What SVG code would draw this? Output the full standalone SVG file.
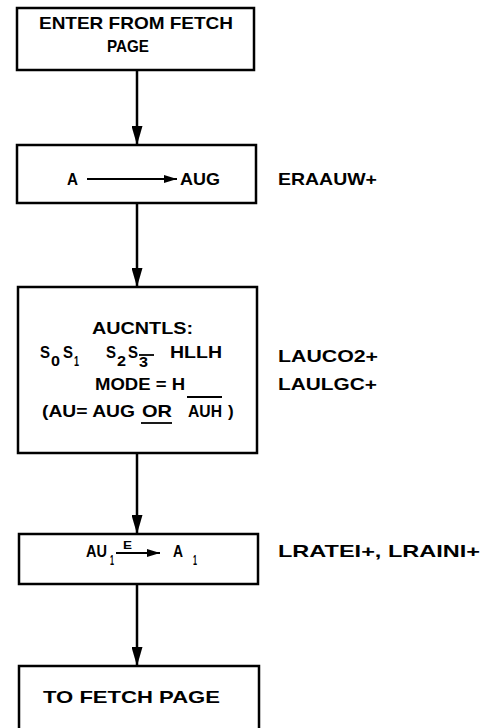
<svg xmlns="http://www.w3.org/2000/svg" width="484" height="728" viewBox="0 0 484 728">
<style>
.box{fill:#fff;stroke:#000;stroke-width:2.5}
.t{font-family:"Liberation Sans",Arial,sans-serif;font-weight:bold;font-size:17px;fill:#000}
.s{font-family:"Liberation Sans",Arial,sans-serif;font-weight:bold;font-size:14px;fill:#000}
.e{font-family:"Liberation Sans",Arial,sans-serif;font-weight:bold;font-size:11px;fill:#000}
.c{stroke:#000;stroke-width:2.5;fill:none}
.ln{stroke:#000;stroke-width:1.8;fill:none}
</style>
<defs>
<marker id="ah" markerUnits="userSpaceOnUse" markerWidth="19" markerHeight="11" refX="19" refY="5.5" orient="auto">
<path d="M0,0 L19,5.5 L0,11 Z" fill="#000"/>
</marker>
<marker id="sa" markerUnits="userSpaceOnUse" markerWidth="13" markerHeight="8" refX="13" refY="4" orient="auto">
<path d="M0,0 L13,4 L0,8 Z" fill="#000"/>
</marker>
</defs>
<g id="connectors">
<line class="c" x1="137" y1="70" x2="137" y2="145" marker-end="url(#ah)"/>
<line class="c" x1="137" y1="203" x2="137" y2="287" marker-end="url(#ah)"/>
<line class="c" x1="137" y1="453" x2="137" y2="534" marker-end="url(#ah)"/>
<line class="c" x1="137" y1="584" x2="137" y2="666" marker-end="url(#ah)"/>
</g>
<g id="n1">
<rect class="box" x="17" y="8" width="237" height="62"/>
<text class="t" x="39" y="29" textLength="194" lengthAdjust="spacingAndGlyphs">ENTER FROM FETCH</text>
<text class="t" x="107" y="52" textLength="42" lengthAdjust="spacingAndGlyphs">PAGE</text>
</g>
<g id="n2">
<rect class="box" x="17" y="145" width="239" height="58"/>
<text class="t" x="67" y="185" textLength="11" lengthAdjust="spacingAndGlyphs">A</text>
<line class="ln" x1="87" y1="179" x2="177" y2="179" marker-end="url(#sa)"/>
<text class="t" x="180" y="185" textLength="40" lengthAdjust="spacingAndGlyphs">AUG</text>
</g>
<g id="l2">
<text class="t" x="278" y="185" textLength="99" lengthAdjust="spacingAndGlyphs">ERAAUW+</text>
</g>
<g id="n3">
<rect class="box" x="18" y="287" width="239" height="166"/>
<text class="t" x="92" y="334" textLength="101" lengthAdjust="spacingAndGlyphs">AUCNTLS:</text>
<text class="t" x="40" y="358" textLength="10" lengthAdjust="spacingAndGlyphs">S</text><text class="s" x="51" y="366" textLength="9" lengthAdjust="spacingAndGlyphs">0</text>
<text class="t" x="63" y="358" textLength="10" lengthAdjust="spacingAndGlyphs">S</text><text class="s" x="74" y="366" textLength="5" lengthAdjust="spacingAndGlyphs">1</text>
<text class="t" x="106" y="358" textLength="10" lengthAdjust="spacingAndGlyphs">S</text><text class="s" x="117" y="366" textLength="9" lengthAdjust="spacingAndGlyphs">2</text>
<text class="t" x="128" y="358" textLength="10" lengthAdjust="spacingAndGlyphs">S</text><text class="s" x="139" y="367" textLength="9" lengthAdjust="spacingAndGlyphs">3</text>
<line class="ln" x1="139" y1="355" x2="154" y2="355"/>
<text class="t" x="170" y="358" textLength="52" lengthAdjust="spacingAndGlyphs">HLLH</text>
<text class="t" x="95" y="390" textLength="90" lengthAdjust="spacingAndGlyphs">MODE = H</text>
<text class="t" x="42" y="417" textLength="93" lengthAdjust="spacingAndGlyphs">(AU= AUG</text>
<text class="t" x="142" y="417" textLength="30" lengthAdjust="spacingAndGlyphs">OR</text>
<line class="ln" x1="141" y1="423" x2="172" y2="423"/>
<text class="t" x="188" y="417" textLength="34" lengthAdjust="spacingAndGlyphs">AUH</text>
<line class="ln" x1="187" y1="397" x2="222" y2="397"/>
<text class="t" x="228" y="417">)</text>
</g>
<g id="l3">
<text class="t" x="278" y="362" textLength="100" lengthAdjust="spacingAndGlyphs">LAUCO2+</text>
<text class="t" x="278" y="390" textLength="99" lengthAdjust="spacingAndGlyphs">LAULGC+</text>
</g>
<g id="n4">
<rect class="box" x="19" y="534" width="239" height="50"/>
<text class="t" x="86" y="557" textLength="21" lengthAdjust="spacingAndGlyphs">AU</text>
<text class="s" x="110" y="565" textLength="4" lengthAdjust="spacingAndGlyphs">1</text>
<text class="e" x="123" y="549" textLength="9" lengthAdjust="spacingAndGlyphs">E</text>
<line class="ln" x1="116" y1="553" x2="160" y2="553" marker-end="url(#sa)"/>
<text class="t" x="173" y="557" textLength="10" lengthAdjust="spacingAndGlyphs">A</text>
<text class="s" x="193" y="565" textLength="4" lengthAdjust="spacingAndGlyphs">1</text>
</g>
<g id="l4">
<text class="t" x="278" y="557" textLength="202" lengthAdjust="spacingAndGlyphs">LRATEI+, LRAINI+</text>
</g>
<g id="n5">
<rect class="box" x="19" y="666" width="240" height="80"/>
<text class="t" x="43" y="703" textLength="177" lengthAdjust="spacingAndGlyphs">TO FETCH  PAGE</text>
</g>
</svg>
